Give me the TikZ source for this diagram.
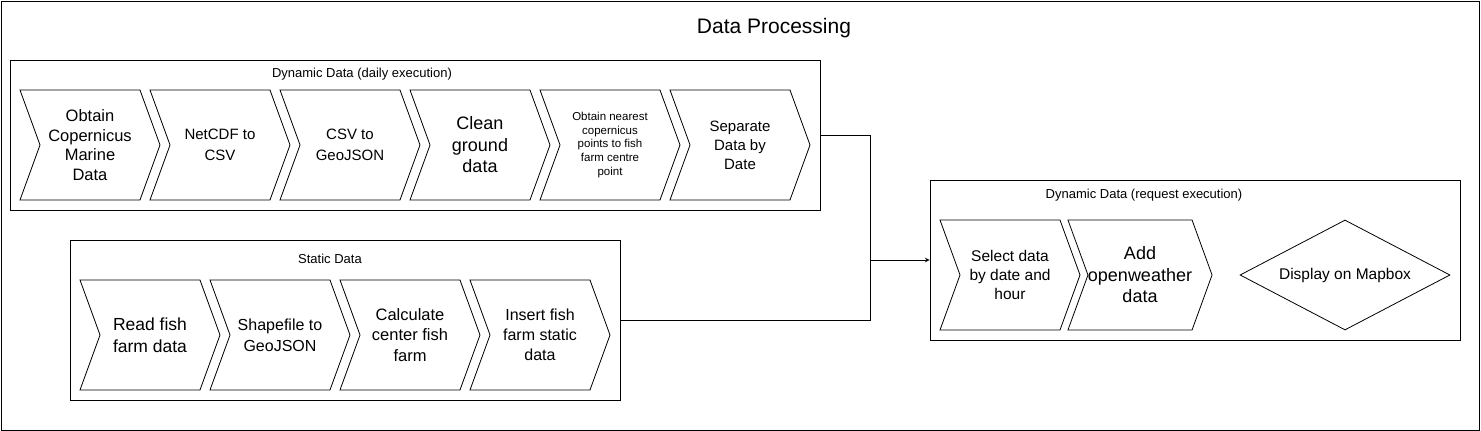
\documentclass[tikz,border=0pt]{standalone}
\usepackage{fontspec}
\setmainfont{Liberation Sans}
\usetikzlibrary{shapes.symbols,shapes.geometric,arrows,positioning}

\begin{document}
\begin{tikzpicture}[
    x=1pt, y=-1pt,
    group/.style={rectangle, draw, inner sep=0pt, line width=1pt},
    chev/.style={signal, signal from=west, signal to=east, signal pointer angle=140, draw, line width=0.8pt, minimum width=140pt, minimum height=110pt, inner sep=0pt, align=center},
    grouplabel/.style={font=\fontsize{13}{15.6}\selectfont},
    arrow/.style={->,>=stealth, line width=1pt}
]
    \useasboundingbox (0,0) rectangle (1481,431);
    \node[group, minimum width=1478pt, minimum height=429pt] (frame) at (740,215.5) {};
    \node[font=\fontsize{21}{25}\selectfont] (title) at (774,28) {Data Processing};

    % daily execution
    \node[group, minimum width=810pt, minimum height=150pt] (daily) at (415,135) {};
    \node[grouplabel] (dailylbl) at (362,74) {Dynamic Data (daily execution)};
    \node[chev, font=\fontsize{16.5}{19.5}\selectfont] (obtain) at (90,145) {Obtain\\Copernicus\\Marine\\Data};
    \node[chev, font=\fontsize{15}{21}\selectfont] (netcdf) at (220,145) {NetCDF to\\CSV};
    \node[chev, font=\fontsize{15}{21}\selectfont] (csv) at (350,145) {CSV to\\GeoJSON};
    \node[chev, font=\fontsize{18}{21.5}\selectfont] (clean) at (480,145) {Clean\\ground\\data};
    \node[chev, font=\fontsize{11.5}{13.8}\selectfont] (nearest) at (610,145) {Obtain nearest\\copernicus\\points to fish\\farm centre\\point};
    \node[chev, font=\fontsize{15}{19}\selectfont] (separate) at (740,145) {Separate\\Data by\\Date};

    % static data
    \node[group, minimum width=550pt, minimum height=160pt] (static) at (345,320) {};
    \node[grouplabel] (staticlbl) at (330,259) {Static Data};
    \node[chev, font=\fontsize{17.5}{21.5}\selectfont] (read) at (150,335) {Read fish\\farm data};
    \node[chev, font=\fontsize{16}{21}\selectfont] (shape) at (280,335) {Shapefile to\\GeoJSON};
    \node[chev, font=\fontsize{16.5}{20.5}\selectfont] (center) at (410,335) {Calculate\\center fish\\farm};
    \node[chev, font=\fontsize{16}{20}\selectfont] (insert) at (540,335) {Insert fish\\farm static\\data};

    % request execution
    \node[group, minimum width=530pt, minimum height=160pt] (request) at (1195,260) {};
    \node[grouplabel] (requestlbl) at (1144,195) {Dynamic Data (request execution)};
    \node[chev, font=\fontsize{15.5}{19}\selectfont] (select) at (1010,275) {Select data\\by date and\\hour};
    \node[chev, font=\fontsize{18}{21.5}\selectfont] (weather) at (1140,275) {Add\\openweather\\data};
    \node[diamond, draw, line width=0.8pt, shape aspect=1.909, minimum width=210pt, minimum height=110pt, inner sep=0pt, font=\fontsize{15.5}{18}\selectfont] (mapbox) at (1345,275) {Display on Mapbox};

    \coordinate (join) at (870,260);
    \draw[line width=1pt] (daily.east) -| (join);
    \draw[line width=1pt] (static.east) -| (join);
    \draw[arrow] (join) -- (request.west);
\end{tikzpicture}
\end{document}
